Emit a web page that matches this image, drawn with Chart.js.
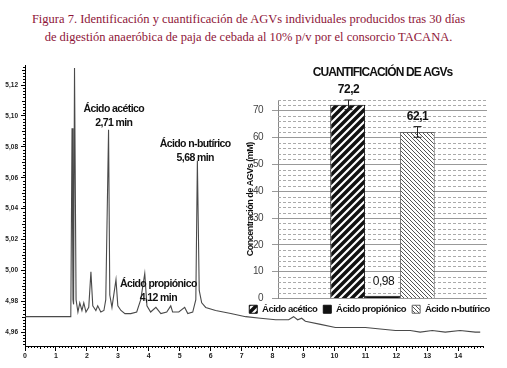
<!DOCTYPE html>
<html>
<head>
<meta charset="utf-8">
<script src="https://cdn.jsdelivr.net/npm/chart.js@4.4.1/dist/chart.umd.min.js"></script>
<style>
  body { margin: 0; background: #fff; width: 507px; height: 368px; overflow: hidden; position: relative; }
  #caption { position: absolute; left: -5px; top: 10px; width: 507px; text-align: center;
             font: 12.5px "Liberation Serif", "DejaVu Serif", serif; line-height: 18px; color: #8e1538; }
  #chromaBox { position: absolute; left: 0; top: 0; width: 507px; height: 368px; }
  #barBox { position: absolute; left: 232px; top: 58px; width: 275px; height: 266px; }
</style>
</head>
<body>
<div id="caption">Figura 7. Identificación y cuantificación de AGVs individuales producidos tras 30 días<br>de digestión anaeróbica de paja de cebada al 10% p/v por el consorcio TACANA.</div>
<div id="chromaBox"><canvas id="chromaChart"></canvas></div>
<div id="barBox"><canvas id="agvChart"></canvas></div>

<script>
// ====== Chromatogram data (min, detector signal) ======
const retentionTimes = [
  0, 1.48, 1.52, 1.55, 1.57, 1.60, 1.65, 1.71, 1.77, 1.84, 1.90, 1.97, 2.06, 2.13, 2.19,
  2.29, 2.35, 2.45, 2.55, 2.61, 2.70, 2.74, 2.81, 2.94, 3.00, 3.10, 3.23, 3.42, 3.61, 3.74,
  3.87, 3.94, 4.06, 4.23, 4.39, 4.58, 4.71, 4.77, 4.97, 5.16, 5.26, 5.42, 5.52, 5.57, 5.63,
  5.71, 5.84, 6.16, 6.65, 7.13, 7.61, 8.10, 8.52, 8.68, 8.81, 8.94, 9.06, 9.55, 10.03, 10.52,
  11.00, 11.48, 11.97, 12.45, 12.77, 13.16, 13.58, 14.06, 14.55, 14.71
];
const detectorSignal = [
  4.970, 4.970, 5.092, 4.981, 4.978, 5.131, 4.981, 4.973, 4.979, 4.974, 4.979, 4.973, 4.976, 4.999, 4.977,
  4.974, 4.977, 4.973, 4.974, 4.981, 5.091, 4.984, 4.976, 4.994, 4.977, 4.974, 4.972, 4.972, 4.973, 4.981,
  4.998, 4.977, 4.973, 4.976, 4.972, 4.973, 4.977, 4.973, 4.973, 4.976, 4.972, 4.973, 4.981, 5.071, 4.987,
  4.979, 4.976, 4.974, 4.972, 4.970, 4.969, 4.968, 4.968, 4.970, 4.968, 4.969, 4.967, 4.965, 4.963, 4.963,
  4.963, 4.962, 4.961, 4.961, 4.960, 4.961, 4.960, 4.961, 4.960, 4.960
];

// peak annotations
const peakNames = ["Ácido acético", "Ácido propiónico", "Ácido n-butírico"];
const peakTimes = ["2,71 min", "4,12 min", "5,68 min"];
const peakLabelX = [2.87, 4.31, 5.50];
const peakLabelY = [5.1045, 4.9910, 5.0820];

// ====== Quantification data ======
const acidNames = ["Ácido acético", "Ácido propiónico", "Ácido n-butírico"];
const acidConc = [72.2, 0.98, 62.1];
const acidError = [1.8, 0, 2.0];
const acidLabels = ["72,2", "0,98", "62,1"];

Chart.defaults.font.family = "'Liberation Sans', Arial, sans-serif";

// ====== Hatch fills ======
function hatch(bg, fg, width, size, rising) {
  const tile = document.createElement("canvas");
  tile.width = tile.height = size;
  const t = tile.getContext("2d");
  t.fillStyle = bg;
  t.fillRect(0, 0, size, size);
  t.strokeStyle = fg;
  t.lineWidth = width;
  t.beginPath();
  if (rising) {
    t.moveTo(0, size); t.lineTo(size, 0);
    t.moveTo(-size / 2, size / 2); t.lineTo(size / 2, -size / 2);
    t.moveTo(size / 2, size * 1.5); t.lineTo(size * 1.5, size / 2);
  } else {
    t.moveTo(0, 0); t.lineTo(size, size);
    t.moveTo(-size / 2, size / 2); t.lineTo(size / 2, size * 1.5);
    t.moveTo(size / 2, -size / 2); t.lineTo(size * 1.5, size / 2);
  }
  t.stroke();
  return t.createPattern(tile, "repeat");
}

const acidFills = [hatch("#fff", "#111", 3.5, 8, true), "#111", hatch("#fff", "#555", 1, 4, false)];
const acidEdges = ["#111", "#111", "#666"];

// ====== Chromatogram extras: minor ticks + peak names ======
const chromaExtras = {
  id: "chromaExtras",
  afterDraw(chart) {
    const { ctx, scales: { x, y } } = chart;
    ctx.save();
    ctx.strokeStyle = "#000";
    ctx.lineWidth = 1;
    ctx.beginPath();
    for (let i = 1; i <= 148; i++) {
      if (i % 10 === 0) continue;
      const px = Math.round(x.getPixelForValue(i / 10)) + 0.5;
      const len = i % 5 === 0 ? 3 : 2;
      ctx.moveTo(px, y.bottom); ctx.lineTo(px, y.bottom + len);
    }
    for (let i = 4952; i <= 5132; i += 2) {
      if (i % 20 === 0) continue;
      const py = Math.round(y.getPixelForValue(i / 1000)) + 0.5;
      const len = i % 10 === 0 ? 3 : 2;
      ctx.moveTo(x.left - len, py); ctx.lineTo(x.left, py);
    }
    ctx.stroke();

    ctx.fillStyle = "#111";
    ctx.font = "bold 10.5px 'Liberation Sans', Arial, sans-serif";
    ctx.letterSpacing = "-0.6px";
    ctx.textAlign = "center";
    ctx.textBaseline = "middle";
    peakNames.forEach((name, i) => {
      const px = x.getPixelForValue(peakLabelX[i]);
      const py = y.getPixelForValue(peakLabelY[i]);
      ctx.fillText(name, px, py);
      ctx.fillText(peakTimes[i], px, py + 14);
    });
    ctx.restore();
  }
};

new Chart(document.getElementById("chromaChart"), {
  type: "line",
  data: {
    datasets: [{
      data: retentionTimes.map((t, i) => ({ x: t, y: detectorSignal[i] })),
      borderColor: "#4a4a4a",
      borderWidth: 1.1,
      pointRadius: 0,
      tension: 0,
    }],
  },
  options: {
    responsive: true,
    maintainAspectRatio: false,
    animation: false,
    layout: { padding: { top: 65, right: 24, left: 0, bottom: 0 } },
    plugins: { legend: { display: false }, tooltip: { enabled: false } },
    scales: {
      x: {
        type: "linear", min: 0, max: 14.8,
        afterFit: (s) => { s.height = 22; },
        ticks: { stepSize: 1, includeBounds: false, padding: 1, maxRotation: 0, color: "#222", font: { size: 7, weight: "bold" } },
        grid: { drawOnChartArea: false, tickLength: 5, color: "#000" },
        border: { color: "#000" },
      },
      y: {
        min: 4.951, max: 5.133,
        afterFit: (s) => { s.width = 25; },
        ticks: {
          stepSize: 0.02, includeBounds: false, padding: 3, color: "#222", font: { size: 6.5, weight: "bold" },
          callback: (v) => v.toFixed(2).replace(".", ","),
        },
        grid: { drawOnChartArea: false, tickLength: 4, color: "#000" },
        border: { color: "#000" },
      },
    },
  },
  plugins: [chromaExtras],
});

// ====== Bar chart extras: dashed grid, error bars, value labels, title ======
const barExtras = {
  id: "barExtras",
  beforeLayout(chart) { chart.ctx.letterSpacing = "-0.5px"; },
  beforeDraw(chart) { chart.ctx.letterSpacing = "-0.5px"; },
  beforeDatasetsDraw(chart) {
    const { ctx, chartArea: a, scales: { y } } = chart;
    ctx.save();
    ctx.strokeStyle = "#aaa";
    ctx.lineWidth = 1;
    ctx.setLineDash([3, 2]);
    ctx.beginPath();
    for (let v = 2; v <= y.max; v += 2) {
      if (v % 10 === 0) continue;
      const py = Math.round(y.getPixelForValue(v)) + 0.5;
      ctx.moveTo(a.left, py); ctx.lineTo(a.right, py);
    }
    ctx.stroke();
    ctx.restore();
  },
  afterDatasetsDraw(chart) {
    const { ctx, chartArea: a, scales: { y } } = chart;
    ctx.save();
    ctx.strokeStyle = "#222";
    ctx.lineWidth = 1;
    ctx.textAlign = "center";
    ctx.textBaseline = "middle";
    acidConc.forEach((val, i) => {
      const bar = chart.getDatasetMeta(i).data[0];
      const bx = Math.round(bar.x) + 0.5;
      let labelY;
      if (acidError[i] > 0) {
        const top = y.getPixelForValue(val + acidError[i]);
        const bot = y.getPixelForValue(val - acidError[i]);
        ctx.beginPath();
        ctx.moveTo(bx, top); ctx.lineTo(bx, bot);
        ctx.moveTo(bx - 4, top); ctx.lineTo(bx + 4, top);
        ctx.moveTo(bx - 4, bot); ctx.lineTo(bx + 4, bot);
        ctx.stroke();
        labelY = top - 10;
        ctx.font = "bold 12px 'Liberation Sans', Arial, sans-serif";
      } else {
        labelY = bar.y - 14;
        ctx.font = "12px 'Liberation Sans', Arial, sans-serif";
        const w = ctx.measureText(acidLabels[i]).width;
        ctx.fillStyle = "#fff";
        ctx.fillRect(bx - w / 2 - 2, labelY - 7, w + 4, 14);
      }
      ctx.fillStyle = "#111";
      ctx.fillText(acidLabels[i], bx, labelY);
    });
    ctx.font = "bold 12px 'Liberation Sans', Arial, sans-serif";
    ctx.letterSpacing = "-0.9px";
    ctx.fillText("CUANTIFICACIÓN DE AGVs", (a.left + a.right) / 2, a.top - 27);
    ctx.restore();
  }
};

new Chart(document.getElementById("agvChart"), {
  type: "bar",
  data: {
    labels: [""],
    datasets: acidNames.map((name, i) => ({
      label: name,
      data: [acidConc[i]],
      backgroundColor: acidFills[i],
      borderColor: acidEdges[i],
      borderWidth: 1,
      categoryPercentage: 0.5,
      barPercentage: 1,
    })),
  },
  options: {
    responsive: true,
    maintainAspectRatio: false,
    animation: false,
    layout: { padding: { top: 42, right: 0, left: 0, bottom: 0 } },
    plugins: {
      legend: {
        position: "bottom",
        labels: { boxWidth: 8, boxHeight: 8, padding: 6, color: "#111", font: { size: 9.5, weight: "bold" } },
      },
      tooltip: { enabled: false },
    },
    scales: {
      x: { display: false },
      y: {
        min: 0, max: 74,
        afterFit: (s) => { s.width = 46; },
        ticks: { stepSize: 10, includeBounds: false, padding: 9, color: "#444", font: { size: 10 } },
        grid: { color: "#999", tickLength: 6 },
        border: { color: "#888" },
        title: {
          display: true, text: "Concentración de AGVs (mM)", color: "#111",
          font: { size: 9, weight: "bold" }, padding: { top: 13, bottom: 0 },
        },
      },
      // empty right-hand margin so the plot ends where the original's does
      yRight: {
        position: "right",
        afterFit: (s) => { s.width = 20; },
        grid: { display: false },
        ticks: { display: false },
        border: { display: false },
      },
    },
  },
  plugins: [barExtras],
});
</script>
</body>
</html>
